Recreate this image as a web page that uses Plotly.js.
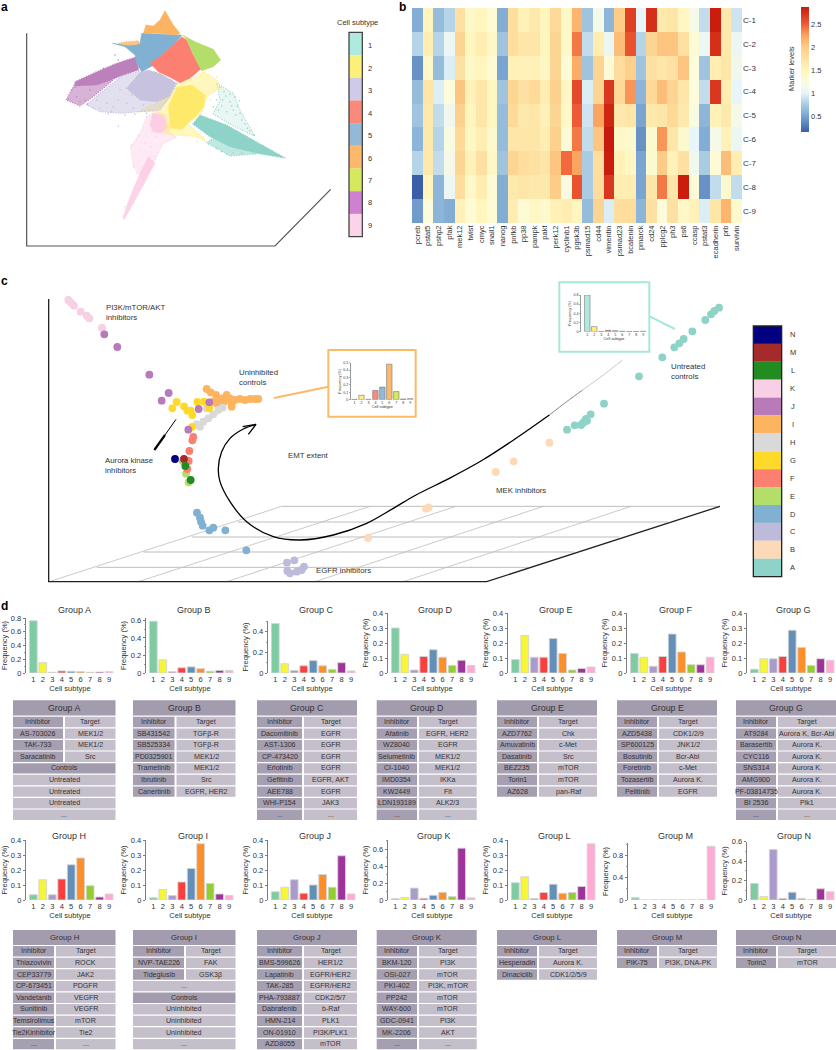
<!DOCTYPE html>
<html><head><meta charset="utf-8">
<script src="https://cdn.plot.ly/plotly-3.0.1.min.js"></script>
<style>html,body{margin:0;padding:0;background:#fff}#p{width:836px;height:1050px}</style>
</head><body><div id="p"></div>
<script>
/* ---------- DATA ---------- */
const subtypes=['1','2','3','4','5','6','7','8','9'];
const groupNames=['A','B','C','D','E','F','G','H','I','J','K','L','M','N'];
const freqA=[.76,.15,.01,.03,.025,.02,.01,.015,.02];
const freqB=[.59,.15,.015,.06,.07,.05,.02,.03,.03];
const freqC=[.48,.09,.025,.07,.12,.07,.035,.1,.02];
const freqD=[.30,.125,.02,.11,.155,.105,.05,.085,.05];
const freqE=[.09,.25,.105,.105,.23,.13,.02,.03,.04];
const freqF=[.13,.105,.045,.11,.26,.14,.055,.055,.105];
const freqG=[.025,.095,.095,.11,.285,.17,.05,.095,.085];
const freqH=[.035,.135,.035,.14,.235,.28,.095,.02,.04];
const freqI=[.015,.07,.03,.12,.21,.375,.11,.04,.03];
const freqJ=[.055,.085,.135,.045,.1,.17,.085,.295,.04];
const freqK=[.015,.03,.14,.02,.055,.09,.04,.61,.025];
const freqL=[.115,.155,.01,.05,.105,.045,.05,.09,.375];
const freqM=[.04,.002,.002,.002,.002,.002,.002,.002,.96];
const freqN=[.17,.035,.52,.015,.08,.015,.003,.115,.085];
const insetUninhibited=[.005,.06,.005,.125,.17,.48,.11,.01,.015];
const insetUntreated=[.8,.11,.005,.03,.02,.01,.005,.005,.01];

const markers=['pcreb','pstat5','pshp2','pfak','mek12','twist','cmyc','snail1','nanog','pnfkb','pp38','pampk','pakt','perk12','cyclinb1','pgsk3b','psmad15','cd44','vimentin','psmad23','bcatenin','pmarck','cd24','pplcg2','ph3','ps6','ccasp','pstat3','ecadherin','prb','survivin'];
const clusters=['C-1','C-2','C-3','C-4','C-5','C-6','C-7','C-8','C-9'];
const levelColumns=[
[.55,.8,.4,.65,.7,.6,.8,.15,.45],[1.5,1.6,1.4,1.7,1.65,1.65,1.65,1.5,1.25],[.65,.8,.65,.95,.85,.8,.85,.6,.6],
[.8,1.05,.95,1.25,1.1,1.2,1.15,1.05,.55],[1.75,1.9,1.75,2.05,1.95,1.85,1.9,1.8,1.55],[1.4,1.5,1.4,1.55,1.5,1.45,1.55,1.4,1.3],
[1.5,1.6,1.5,1.7,1.7,1.6,1.75,1.6,1.5],[1.3,1.4,1.3,1.45,1.45,1.35,1.4,1.3,1.3],[.55,.7,.5,.7,.65,.65,.7,.55,.55],
[1.8,1.8,1.55,1.9,1.85,1.7,1.9,1.65,1.6],[1.55,1.7,1.55,1.75,1.65,1.7,1.8,1.7,1.3],[1.65,1.7,1.55,1.85,1.7,1.7,1.75,1.65,1.45],
[1.5,1.5,1.45,1.6,1.55,1.6,1.7,1.65,1.35],[1.85,1.9,1.9,1.95,1.9,1.95,2.05,2.0,1.55],[1.4,1.4,1.3,1.45,1.4,1.3,2.45,1.2,1.6],
[2.15,2.4,2.2,2.6,2.5,2.4,2.25,2.55,1.5],[.7,.85,.7,.95,.9,.85,.75,.75,.65],[1.15,1.6,1.9,1.9,2.25,2.05,1.8,1.8,1.9],
[.6,1.05,1.3,2.7,2.8,2.9,2.85,2.7,.95],[2.0,2.1,1.8,1.85,1.65,1.4,1.55,1.6,1.8],[2.65,2.55,1.95,2.3,1.7,1.35,1.45,1.6,1.8],
[1.0,.8,.7,.6,.5,.4,.5,.5,.6],[2.75,1.9,1.75,1.85,1.65,1.35,1.35,1.7,1.75],[1.65,2.05,1.7,2.1,1.7,2.3,2.0,2.4,1.25],
[1.7,2.05,1.75,1.9,1.85,1.7,1.55,1.7,1.75],[1.45,1.75,2.05,1.7,1.65,1.35,1.75,2.85,1.4],[1.15,1.3,1.25,1.25,1.2,1.0,1.1,1.3,1.55],
[.85,1.05,.7,.85,.6,.55,.75,.4,.95],[2.85,2.75,1.6,2.7,1.55,1.15,1.3,.85,1.7],[1.65,1.65,1.7,1.6,1.65,1.55,2.1,1.35,2.15],
[.9,1.05,1.1,1.0,1.15,1.05,1.6,.85,1.35]];

/* embedding regions of panel a */
const regionPinkSparse=[[440,350],[470,335],[500,345],[510,400],[530,412],[490,430],[460,490],[430,540],[400,500],[392,440],[420,400]];
const regionPink=[[458,340],[490,345],[505,385],[480,400],[460,395],[450,375]];
const regionPinkTail=[[445,470],[465,490],[425,565],[372,660],[369,650],[400,565],[425,510]];
const regionTeal=[[600,345],[680,375],[760,420],[858,475],[780,462],[690,440],[630,410],[578,372]];
const regionTealLower=[[620,428],[650,408],[770,462],[690,468]];
const regionTealUpper=[[650,250],[700,280],[722,335],[765,408],[700,378],[640,342],[660,300]];
const regionYellow=[[535,250],[570,240],[610,215],[650,240],[660,265],[620,290],[605,340],[560,370],[590,395],[620,425],[590,410],[520,405],[490,400],[500,360],[470,335],[415,335],[490,300]];
const regionYellowCore=[[530,262],[575,255],[615,285],[612,320],[585,350],[545,388],[510,385],[505,320]];
const regionLavender=[[415,215],[445,210],[480,220],[530,250],[510,290],[480,330],[420,335],[360,340],[300,335],[260,315],[300,280],[370,225]];
const regionLavenderCore=[[420,218],[445,212],[480,222],[528,250],[505,290],[470,305],[420,300],[380,265]];
const regionPurple=[[410,170],[416,210],[370,225],[335,240],[290,255],[225,258],[225,245],[290,215],[350,190]];
const regionPurpleSparse=[[225,250],[340,240],[280,290],[240,318],[198,300]];
const regionBlue=[[425,100],[470,102],[530,103],[545,105],[530,125],[480,170],[462,195],[445,205],[425,215],[410,190],[405,165],[375,140],[337,130],[375,135],[405,135],[420,130]];
const regionRed=[[545,110],[560,120],[580,165],[605,205],[570,235],[540,248],[510,232],[475,215],[450,190],[480,170],[530,125]];
const regionGreen=[[548,105],[585,125],[640,148],[662,180],[640,200],[605,212],[590,185],[575,150],[560,118]];
const regionOrange=[[430,100],[438,75],[460,78],[480,60],[495,32],[505,50],[520,75],[540,100],[530,105],[470,100]];
const regionOrangeSpur=[[355,130],[380,125],[415,122],[420,132],[385,137]];
const speckTeal=[[660,262],[672,275],[690,282],[705,290],[668,300],[690,305],[712,318],[700,330],[720,340],[680,335],[655,330],[735,372],[750,392],[760,405],[640,320],[625,432],[650,445],[680,462],[665,455],[700,458],[725,460],[678,288],[695,318],[708,345],[725,360],[742,385],[665,318],[650,300],[718,302]];
const speckLavender=[[290,300],[320,310],[340,320],[355,300],[380,310],[400,325],[430,315],[450,300],[470,285],[395,285],[360,270],[335,335],[355,378],[300,325],[280,325],[325,342],[375,345],[405,342],[440,340]];
const speckPink=[[395,435],[420,450],[445,480],[410,520],[430,505],[452,440],[400,495],[442,520],[425,545],[415,405],[375,620],[395,590],[465,470],[470,410],[385,610],[405,560],[418,480],[435,430],[455,395]];
const speckPurple=[[215,270],[230,290],[205,296],[255,300],[345,165],[355,180],[310,205],[270,270],[225,262],[240,305],[262,312]];
const speckYellow=[[590,425],[610,410],[630,300],[655,250],[640,270],[425,330],[450,315],[600,230],[625,225],[650,232],[612,418],[600,400]];

const labelsSubtype=subtypes;
const labelsGroupStack=['N','M','L','K','J','I','H','G','F','E','D','C','B','A'];

/* inhibitor positions in panel c (read-off units) */
const dotsK=[[205,75],[213,83],[222,92],[242,110],[260,122],[268,130],[306,158]];
const dotsJ=[[313,178],[352,216],[448,299],[506,354],[485,377],[628,382],[596,402],[565,464]];
const dotsG=[[530,381],[517,400],[552,394],[562,407],[572,407],[577,420],[592,381],[612,380],[628,400],[576,456]];
const dotsH=[[620,400],[668,398],[655,405],[640,418],[625,430],[610,440],[590,448],[600,455]];
const dotsI=[[620,342],[632,352],[648,360],[665,370],[640,380],[650,385],[672,380],[690,370],[695,395],[660,392],[705,375],[720,372],[735,375],[750,372],[765,372],[775,372],[680,360],[695,385],[660,378]];
const dotsF=[[580,486],[577,496],[568,528],[566,558],[562,582]];
const dotsN=[[525,552]];
const dotsM=[[552,552]];
const dotsL=[[556,573],[572,615]];
const dotsE=[[548,558],[558,596],[566,622]];
const dotsD=[[591,713],[600,728],[603,740],[608,752],[640,758],[628,766],[676,766],[739,826]];
const dotsC=[[861,863],[883,856],[912,875],[905,885],[890,890],[870,895],[862,888]];
const dotsB=[[1104,789],[1286,697],[1278,701],[1487,591],[1541,559],[1648,503]];
const dotsA=[[1701,464],[1724,451],[1743,450],[1748,445],[1753,440],[1758,432],[1761,437],[1772,418],[1812,386],[1917,304],[1987,247],[2023,217],[2038,205],[2051,192],[2077,169],[2116,135],[2133,118],[2143,108],[2157,98]];

/* tables: two entries = two columns, one entry = spanning row */
const tableA=[['AS-703026','MEK1/2'],['TAK-733','MEK1/2'],['Saracatinib','Src'],['Controls'],['Untreated'],['Untreated'],['Untreated'],['...']];
const tableB=[['SB431542','TGFβ-R'],['SB525334','TGFβ-R'],['PD0325901','MEK1/2'],['Trametinib','MEK1/2'],['Ibrutinib','Src'],['Canertinib','EGFR, HER2']];
const tableC=[['Dacomitinib','EGFR'],['AST-1306','EGFR'],['CP-473420','EGFR'],['Erlotinib','EGFR'],['Gefitinib','EGFR, AKT'],['AEE788','EGFR'],['WHI-P154','JAK3'],['...','...']];
const tableD=[['Afatinib','EGFR, HER2'],['WZ8040','EGFR'],['Selumetinib','MEK1/2'],['CI-1040','MEK1/2'],['IMD0354','IKKa'],['KW2449','Flt'],['LDN193189','ALK2/3'],['...','...']];
const tableE=[['AZD7762','Chk'],['Amuvatinib','c-Met'],['Dasatinib','Src'],['BEZ235','mTOR'],['Torin1','mTOR'],['AZ628','pan-Raf']];
const tableF=[['AZD5438','CDK1/2/9'],['SP600125','JNK1/2'],['Bosutinib','Bcr-Abl'],['Foretinib','c-Met'],['Tozasertib','Aurora K.'],['Pelitinib','EGFR']];
const tableG=[['AT9284','Aurora K, Bcr-Abl'],['Barasertib','Aurora K.'],['CYC116','Aurora K.'],['SNS314','Aurora K.'],['AMG900','Aurora K.'],['PF-03814735','Aurora K.'],['BI 2536','Plk1'],['...','...']];
const tableH=[['Thiazovivin','ROCK'],['CEP33779','JAK2'],['CP-673451','PDGFR'],['Vandetanib','VEGFR'],['Sunitinib','VEGFR'],['Temsirolimus','mTOR'],['Tie2Kinhibitor','Tie2'],['...','...']];
const tableI=[['NVP-TAE226','FAK'],['Tideglusib','GSK3β'],['...'],['Controls'],['Uninhibited'],['Uninhibited'],['Uninhibited'],['...']];
const tableJ=[['BMS-599626','HER1/2'],['Lapatinib','EGFR/HER2'],['TAK-285','EGFR/HER2'],['PHA-793887','CDK2/5/7'],['Dabrafenib','b-Raf'],['HMN-214','PLK1'],['ON-01910','PI3K/PLK1'],['AZD8055','mTOR']];
const tableK=[['BKM-120','PI3K'],['OSI-027','mTOR'],['PKI-402','PI3K, mTOR'],['PP242','mTOR'],['WAY-600','mTOR'],['GDC-0941','PI3K'],['MK-2206','AKT'],['...','...']];
const tableL=[['Hesperadin','Aurora K.'],['Dinaciclib','CDK1/2/5/9']];
const tableM=[['PIK-75','PI3K, DNA-PK']];
const tableN=[['Torin2','mTOR']];
const tableTitles=['Group A','Group B','Group C','Group D','Group E','Group E','Group G','Group H','Group I','Group J','Group K','Group L','Group M','Group N'];

/* ---------- STYLE / GEOMETRY ---------- */
const W=836,H=1050,FONT='"Liberation Sans",Arial,sans-serif',INK='#333';
const barColors=['#7fcca3','#f6f636','#ab9bcd','#fb3f3f','#638fb9','#fd8f2a','#93cd30','#a0329b','#ffabd6'];
const insetColors=['#aeeadf','#fdf07a','#cfc9ea','#fb8a7c','#93b9d6','#fdb86c','#d6e85e','#cf80d0','#fcd4ea'];
const stackColors=['#000080','#a52a2a','#228b22','#f8cfe5','#b87ab8','#fdb45f','#d9d9d9','#ffd92a','#fb8072','#b3de69','#80b1d3','#bebada','#fdd9b5','#8dd3c7'];
const barPanels={
 A:[26,673,618,.8,.2],B:[146,673,618,.627,.2],C:[268,673,621,.505,.2],D:[388,673,613,.4,.1],E:[508,673,613,.4,.1],F:[627,673,613,.4,.1],G:[747,673,613,.4,.1],
 H:[26,900,840,.4,.1],I:[146,900,840,.4,.1],J:[268,900,840,.4,.1],K:[388,900,840,.706,.2],L:[508,900,840,.4,.1],M:[628,900,843,1.02,.4],N:[747,900,841.7,.6,.2]};
const titleX={A:74,B:194,C:316,D:436,E:556,F:676,G:793,H:69,I:193,J:315,K:434,L:554,M:675,N:794};
const tableBox={A:[13,115.5,63],B:[133,235.5,174.5],C:[257,357,302],D:[376.7,476.7,417],E:[497,597,537],F:[617,717,657],G:[736,836,776],
 H:[13,115.5,54],I:[133,235.5,184],J:[257,357,302],K:[376.7,476.7,417],L:[497,597,537],M:[617,717,657],N:[736,836,776]};
const freqs={A:freqA,B:freqB,C:freqC,D:freqD,E:freqE,F:freqF,G:freqG,H:freqH,I:freqI,J:freqJ,K:freqK,L:freqL,M:freqM,N:freqN};
const tables={A:tableA,B:tableB,C:tableC,D:tableD,E:tableE,F:tableF,G:tableG,H:tableH,I:tableI,J:tableJ,K:tableK,L:tableL,M:tableM,N:tableN};

const px=x=>x/W, py=y=>1-y/H;
const traces=[],shapes=[],annotations=[],layout={};
let axisN=0;
function addAxes(l,r,t,b,xo,yo){
  axisN++;const sfx=axisN===1?'':axisN;
  layout['xaxis'+sfx]=Object.assign({domain:[px(l),px(r)],anchor:'y'+sfx,visible:false,fixedrange:true},xo);
  layout['yaxis'+sfx]=Object.assign({domain:[py(b),py(t)],anchor:'x'+sfx,visible:false,fixedrange:true},yo);
  return ['x'+sfx,'y'+sfx];
}
function text(t,x,y,size,o){annotations.push(Object.assign({text:t,xref:'paper',yref:'paper',x:px(x),y:py(y),showarrow:false,xanchor:'center',yanchor:'middle',font:{family:FONT,size:size,color:INK}},o||{}));}
const xs=a=>a.map(p=>p[0]),ys=a=>a.map(p=>p[1]);
const closed=a=>a.concat([a[0]]);

/* ---------- PANEL A ---------- */
const [ax,ay]=addAxes(0,400,0,260,{range:[0,1200]},{range:[780,0]});
function region(pts,fill,line,ld){traces.push({type:'scatter',mode:'lines',x:xs(closed(pts)),y:ys(closed(pts)),xaxis:ax,yaxis:ay,fill:'toself',fillcolor:fill,line:{color:line,width:ld?1.1:0.5,dash:ld?'1px,1.6px':'solid'},hoverinfo:'skip'});}
function specks(pts,c){traces.push({type:'scatter',mode:'markers',x:xs(pts),y:ys(pts),xaxis:ax,yaxis:ay,marker:{size:1.5,color:c},hoverinfo:'skip'});}
traces.push({type:'scatter',mode:'lines',x:[80,80,825,992],y:[100,738,738,568],xaxis:ax,yaxis:ay,line:{color:'#555',width:1.2},hoverinfo:'skip'});
region(regionPinkSparse,'rgba(252,205,229,.42)','#fccde5',true);specks(speckPink,'#fccde5');
region(regionPink,'#fccde5','#fccde5',true);region(regionPinkTail,'rgba(252,205,229,.85)','#fccde5',true);
region(regionTealUpper,'rgba(141,211,199,.2)','#8dd3c7',true);
region(regionTealLower,'rgba(141,211,199,.55)','#8dd3c7',true);
region(regionTeal,'#8dd3c7','#8dd3c7',true);specks(speckTeal,'#8dd3c7');
region(regionYellow,'rgba(255,237,111,.45)','#ffed6f',true);specks(speckYellow,'#ffed6f');
region(regionYellowCore,'#ffe96a','#ffed6f',true);
region(regionLavender,'rgba(190,186,218,.45)','#bebada',true);specks(speckLavender,'#bebada');
region(regionLavenderCore,'rgba(190,186,218,.75)','#bebada',true);
region(regionPurpleSparse,'rgba(188,128,189,.6)','#bc80bd',true);specks(speckPurple,'#bc80bd');
region(regionPurple,'#bc80bd','#bc80bd',true);
region(regionBlue,'#80b1d3','#80b1d3');
region(regionRed,'#fb8072','#fb8072');
region(regionGreen,'#b3de69','#b3de69');
region(regionOrange,'#fdb462','#fdb462');region(regionOrangeSpur,'rgba(253,180,98,.75)','#fdb462',true);
insetColors.forEach((c,i)=>{
  shapes.push({type:'rect',xref:ax,yref:ay,x0:1047,x1:1087,y0:97+i*68.1,y1:97+(i+1)*68.1,fillcolor:c,line:{width:0}});
  annotations.push({text:labelsSubtype[i],xref:ax,yref:ay,x:1111,y:137+i*67.4,showarrow:false,font:{family:FONT,size:7.5,color:INK}});
});
shapes.push({type:'rect',xref:ax,yref:ay,x0:1047,x1:1087,y0:97,y1:710,line:{color:'#444',width:1.3}});
annotations.push({text:'Cell subtype',xref:ax,yref:ay,x:1072,y:68,showarrow:false,font:{family:FONT,size:7.5,color:INK}});

/* ---------- PANEL B ---------- */
const [bx,by]=addAxes(412,742,8,223,
 {visible:true,type:'category',showgrid:false,zeroline:false,showline:false,ticks:'',tickangle:-90,tickfont:{family:FONT,size:7.5,color:INK},ticklen:0,tickvals:markers,ticktext:markers},
 {visible:true,type:'category',side:'right',autorange:'reversed',showgrid:false,zeroline:false,showline:false,ticks:'',tickfont:{family:FONT,size:8,color:INK}});
const levelRows=clusters.map((_,r)=>levelColumns.map(c=>c[r]));
traces.push({type:'heatmap',x:markers,y:clusters,z:levelRows,xaxis:bx,yaxis:by,zmin:.15,zmax:2.87,hoverinfo:'skip',
 colorscale:[[0,'#3a5fa8'],[.129,'#7aa5d2'],[.22,'#a9cbe3'],[.3125,'#e8f5f9'],[.404,'#fcfcdc'],[.496,'#fff5bd'],[.68,'#fdcd88'],[.772,'#fba45f'],[.864,'#ee5a35'],[1,'#c81a0c']],
 colorbar:{x:px(801),xanchor:'left',xref:'container',y:py(132),yanchor:'bottom',yref:'container',lenmode:'pixels',len:125,thickness:8,thicknessmode:'pixels',outlinewidth:0,ticks:'',tickvals:[.5,1,1.5,2,2.5],ticktext:['0.5','1','1.5','2','2.5'],tickfont:{family:FONT,size:7.5,color:INK},ypad:0,xpad:0}});
text('Marker levels',791,69,7.5,{textangle:-90});

/* ---------- PANEL C ---------- */
const [cx,cy]=addAxes(0,836,275,595,{range:[0,2508]},{range:[960,0]});
function cline(x,y,c,w,sp){traces.push({type:'scatter',mode:'lines',x,y,xaxis:cx,yaxis:cy,line:{color:c,width:w,shape:sp?'spline':'linear',smoothing:1},hoverinfo:'skip'});}
const gridGrey='#bdbdbd';
[[148,845],[415,1110],[680,1368],[945,1630],[1210,1893]].forEach(p=>cline([p[0],p[1]],[920,694],gridGrey,.8));
[[845,2160,694],[713,2003,741],[575,1858,786],[430,1723,831],[290,1586,877]].forEach(p=>cline([p[0],p[1]],[p[2],p[2]],gridGrey,1));
cline([146,146,1460,2160],[72,920,920,694],'#222',1.3);
function dots(pts,c,s){traces.push({type:'scatter',mode:'markers',x:xs(pts),y:ys(pts),xaxis:cx,yaxis:cy,marker:{size:s||7.8,color:c,line:{width:0}},hoverinfo:'skip'});}
dots(dotsB,'#fdd9b5');dots(dotsA,'#8dd3c7');dots(dotsC,'#bebada');dots(dotsD,'#80b1d3');
dots(dotsE,'#b3de69');dots(dotsF,'#fb8072');dots(dotsK,'#f8cfe5');dots(dotsI,'#fdb45f');dots(dotsH,'#d9d9d9');dots(dotsG,'#ffd92a');dots(dotsJ,'#b87ab8');
dots(dotsN,'#000080');dots(dotsM,'#a52a2a');dots(dotsL,'#228b22');
/* EMT arrow */
cline([1868,1810,1748],[255,300,345],'#c8c8c8',1,true);
cline([1748,1700,1648],[345,380,420],'#888',1,true);
cline([1648,1548,1448,1348,1248,1180,1100,1000,900,820,740,690,660,655,665,690,730,768],[420,490,555,610,660,700,745,780,795,785,740,680,620,580,530,490,462,448],'#000',1.3,true);
cline([728,768,745],[455,448,478],'#000',1.3);
cline([463,495],[525,480],'#000',2.2);cline([495,528],[480,433],'#000',1);
cline([822,985],[369,335],'#fdb96a',2);
cline([1950,2025],[125,162],'#a5e8da',2);
shapes.push({type:'rect',xref:cx,yref:cy,x0:985,x1:1247,y0:225,y1:425,line:{color:'#fdb96a',width:2}});
shapes.push({type:'rect',xref:cx,yref:cy,x0:1678,x1:1948,y0:22,y1:230,line:{color:'#a5e8da',width:2}});
function clabel(t,x,y){annotations.push({text:t,xref:cx,yref:cy,x,y,showarrow:false,xanchor:'left',align:'left',font:{family:FONT,size:7.8,color:INK}});}
clabel('PI3K/mTOR/AKT<br>inhibitors',311,114);
clabel('Uninhibited<br>controls',710,309);
clabel('Aurora kinase<br>inhibitors',309,571);
clabel('EMT extent',859,541);
clabel('EGFR inhibitors',942,885);
clabel('MEK inhibitors',1481,646);
clabel('Untreated<br>controls',2006,291);
stackColors.forEach((c,i)=>{
  shapes.push({type:'rect',xref:cx,yref:cy,x0:2260,x1:2345,y0:153+i*53.7,y1:153+(i+1)*53.7,fillcolor:c,line:{width:0}});
  annotations.push({text:labelsGroupStack[i],xref:cx,yref:cy,x:2378,y:180+i*53.7,showarrow:false,font:{family:FONT,size:7.5,color:INK}});
});
shapes.push({type:'rect',xref:cx,yref:cy,x0:2260,x1:2345,y0:153,y1:905,line:{color:'#222',width:1.3}});

/* insets */
function inset(vals,l,r,t,b,ymax,dt,xr){
  const [ix,iy]=addAxes(l,r,t,b,
   {visible:true,range:xr,tickvals:[1,2,3,4,5,6,7,8,9],showgrid:false,zeroline:false,showline:false,ticks:'',tickfont:{family:FONT,size:3.6,color:INK},ticklen:0,title:{text:'Cell subtype',font:{family:FONT,size:3.8,color:INK},standoff:1}},
   {visible:true,range:[0,ymax],dtick:dt,showgrid:false,zeroline:false,showline:true,linecolor:'#555',linewidth:.6,ticks:'outside',ticklen:1.2,tickcolor:'#555',tickwidth:.5,tickfont:{family:FONT,size:3.6,color:INK},title:{text:'Frequency (%)',font:{family:FONT,size:3.8,color:INK},standoff:1}});
  traces.push({type:'bar',x:subtypes.map(Number),y:vals,xaxis:ix,yaxis:iy,width:.78,marker:{color:insetColors,line:{color:'#777',width:.6}},hoverinfo:'skip'});
}
inset(insetUninhibited,350.7,414,362.7,399.7,.5,.1,[.45,9.55]);
inset(insetUntreated,581,647,295,331.7,.8,.2,[.1,9.55]);

/* ---------- PANEL D ---------- */
groupNames.forEach((g,idx)=>{
  const [left,zero,top,ymax,step]=barPanels[g];
  const minorOn=step>=.2;
  const [dx,dy]=addAxes(left,left+88,top,zero,
   {visible:true,range:[.23,9.52],tickvals:[1,2,3,4,5,6,7,8,9],showgrid:false,zeroline:false,showline:false,ticks:'',tickfont:{family:FONT,size:7.5,color:INK},title:{text:'Cell subtype',font:{family:FONT,size:7.5,color:INK},standoff:2}},
   {visible:true,range:[0,ymax],dtick:step,showgrid:false,zeroline:false,showline:true,linecolor:'#444',linewidth:.7,ticks:'outside',ticklen:2.5,tickcolor:'#444',tickwidth:.7,tickfont:{family:FONT,size:7.5,color:INK},
    minor:minorOn?{dtick:step/2,ticks:'outside',ticklen:1.5,tickcolor:'#444',tickwidth:.5}:undefined,
    title:{text:'Frequency (%)',font:{family:FONT,size:7.5,color:INK},standoff:3}});
  traces.push({type:'bar',x:subtypes.map(Number),y:freqs[g],xaxis:dx,yaxis:dy,width:.82,marker:{color:barColors,line:{color:'#d4d4d4',width:.9}},hoverinfo:'skip'});
  const row2=idx>=7;
  text('Group '+g,titleX[g],row2?835.7:610,9);
  /* table */
  const [tl,tr,ts]=tableBox[g];
  const headTop=row2?930:700.3,headBot=row2?945:715.4,first=row2?951.3:722,pitch=11.6,hh=5.2;
  const DARK='#a39bae',LEFT='#a69fb1',LIGHT='#c5bfcc';
  const rect=(x0,x1,y0,y1,c)=>shapes.push({type:'rect',xref:'paper',yref:'paper',x0:px(x0),x1:px(x1),y0:py(y1),y1:py(y0),fillcolor:c,line:{width:0},layer:'below'});
  rect(tl,tr,headTop,headBot,DARK);
  text(tableTitles[idx],(tl+tr)/2,(headTop+headBot)/2,row2?7.8:8.8);
  const rows=[['Inhibitor','Target']].concat(tables[g]);
  rows.forEach((rw,i)=>{
    const yc=first+i*pitch;
    if(rw.length===2){
      rect(tl,ts,yc-hh,yc+hh,LEFT);rect(ts+2,tr,yc-hh,yc+hh,LIGHT);
      text(rw[0],(tl+ts)/2,yc,7.1);text(rw[1],(ts+2+tr)/2,yc,7.1);
    }else{
      rect(tl,tr,yc-hh,yc+hh,rw[0]==='Controls'?DARK:LIGHT);
      text(rw[0],(tl+tr)/2,yc,7.1);
    }
  });
});

/* panel letters */
[['a',4,7],['b',402,7],['c',4,281],['d',4,606]].forEach(p=>text(p[0],p[1],p[2],12,{font:{family:FONT,size:12,color:'#000',weight:700}}));

Object.assign(layout,{width:W,height:H,margin:{l:0,r:0,t:0,b:0,autoexpand:false},paper_bgcolor:'#fff',plot_bgcolor:'rgba(0,0,0,0)',showlegend:false,shapes,annotations,font:{family:FONT,color:INK},bargap:0});
Plotly.newPlot('p',traces,layout,{displayModeBar:false,staticPlot:true});
</script></body></html>
